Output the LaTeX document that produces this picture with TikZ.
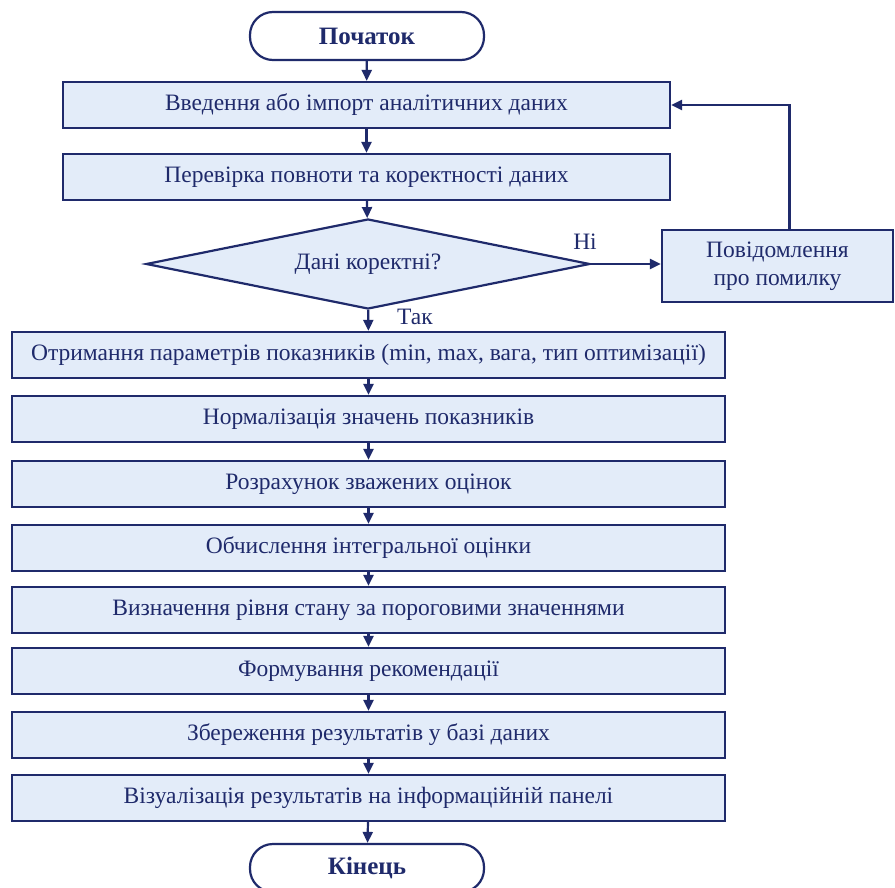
\documentclass[tikz,border=0pt]{standalone}
\usepackage{fontspec}
\setmainfont{Liberation Serif}
\usetikzlibrary{arrows.meta,shapes.geometric}
\definecolor{navy}{HTML}{1F2A6B}
\definecolor{boxfill}{HTML}{E3ECF9}
\begin{document}
\begin{tikzpicture}[x=1pt,y=1pt,
  base/.style={draw=navy, line width=2.2pt, text=navy, font=\fontsize{23.5}{28}\selectfont, inner sep=0pt, align=center},
  proc/.style={base, fill=boxfill, minimum height=46pt},
  term/.style={base, fill=white, rounded corners=23pt, minimum width=234pt, minimum height=48pt, font=\fontsize{25}{30}\selectfont\bfseries},
  dec/.style={base, fill=boxfill, shape=diamond, aspect=4.93, minimum width=444pt, minimum height=90pt},
  arr/.style={draw=navy, line width=2.2pt, -{Triangle[length=11pt,width=10pt]}},
  lbl/.style={text=navy, font=\fontsize{23.5}{28}\selectfont}]
\fill[white] (0,0) rectangle (895,-888);
\useasboundingbox (0,0) rectangle (895,-888);
\node[term] (start) at (367,-36) {Початок};
\node[proc, minimum width=607pt] (b1) at (366.5,-105) {Введення або імпорт аналітичних даних};
\node[proc, minimum width=607pt] (b2) at (366.5,-177) {Перевірка повноти та коректності даних};
\node[dec] (d) at (368,-264) {Дані коректні?};
\node[proc, minimum width=231pt, minimum height=72pt] (err) at (777.5,-266) {Повідомлення\\про помилку};
\node[proc, minimum width=713pt] (b3) at (368.5,-355) {Отримання параметрів показників (min, max, вага, тип оптимізації)};
\node[proc, minimum width=713pt] (b4) at (368.5,-419) {Нормалізація значень показників};
\node[proc, minimum width=713pt] (b5) at (368.5,-484) {Розрахунок зважених оцінок};
\node[proc, minimum width=713pt] (b6) at (368.5,-548) {Обчислення інтегральної оцінки};
\node[proc, minimum width=713pt] (b7) at (368.5,-610) {Визначення рівня стану за пороговими значеннями};
\node[proc, minimum width=713pt] (b8) at (368.5,-671) {Формування рекомендації};
\node[proc, minimum width=713pt] (b9) at (368.5,-735) {Збереження результатів у базі даних};
\node[proc, minimum width=713pt] (b10) at (368.5,-798) {Візуалізація результатів на інформаційній панелі};
\node[term] (end) at (367,-868) {Кінець};
\draw[arr] (start) -- (b1);
\draw[arr] (b1) -- (b2);
\draw[arr] (b2) -- (d);
\draw[arr] (d) -- (b3);
\draw[arr] (b3) -- (b4);
\draw[arr] (b4) -- (b5);
\draw[arr] (b5) -- (b6);
\draw[arr] (b6) -- (b7);
\draw[arr] (b7) -- (b8);
\draw[arr] (b8) -- (b9);
\draw[arr] (b9) -- (b10);
\draw[arr] (b10) -- (end);
\draw[arr] (d.east) -- (d.east -| err.west);
\draw[arr] ([xshift=12pt]err.north) |- (b1.east);
\node[lbl] (no) at (585,-242) {Ні};
\node[lbl] (yes) at (415,-317) {Так};
\end{tikzpicture}
\end{document}
